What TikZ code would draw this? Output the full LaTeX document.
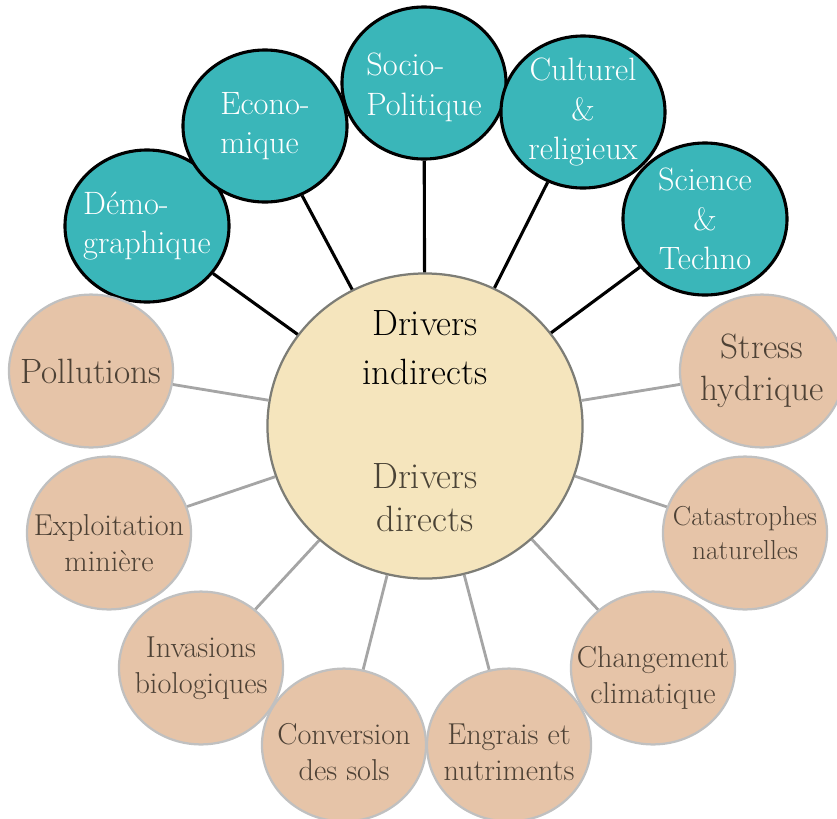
\documentclass[tikz,border=0pt]{standalone}
\usepackage{xcolor}
\usepackage{tikz}
\usetikzlibrary{shapes.geometric, arrows}
\definecolor{tealfill}{RGB}{58,182,185}
\definecolor{beigefill}{RGB}{230,196,168}
\definecolor{hubfill}{RGB}{245,229,189}
\definecolor{beigeline}{RGB}{192,192,192}
\definecolor{hubline}{RGB}{125,125,118}
\definecolor{link}{RGB}{165,165,165}
\definecolor{beigetext}{RGB}{77,65,53}
\definecolor{hubtext}{RGB}{74,67,54}
\tikzstyle{hub} = [ellipse, minimum width=7.875cm, minimum height=7.625cm, fill=hubfill, draw=hubline, line width=1.6pt]
\tikzstyle{indirect} = [ellipse, minimum width=4.1cm, minimum height=3.8cm, fill=tealfill, draw=black, line width=2.2pt]
\tikzstyle{direct} = [ellipse, minimum width=4.1cm, minimum height=3.82cm, fill=beigefill, draw=beigeline, line width=1.6pt]
\tikzstyle{bigtext} = [font=\fontsize{26}{35}\selectfont, align=center]
\tikzstyle{indtext} = [text=white, font=\fontsize{23}{28}\selectfont, align=center]
\tikzstyle{dirtext} = [text=beigetext, font=\fontsize{21.5}{25.5}\selectfont, align=center]
\tikzstyle{strong} = [line width=2.2pt, draw=black]
\tikzstyle{weak} = [line width=2pt, draw=link]

\begin{document}
\begin{tikzpicture}[x=0.025cm, y=-0.025cm]
	\useasboundingbox (0,0) rectangle (837,818);
	
	% Nodes
	\node (hub) [hub] at (425,426) {};
	\node (indir) [bigtext, text=black] at (425,348) {Drivers\\indirects};
	\node (dir) [bigtext, text=hubtext, font=\fontsize{26}{30.5}\selectfont] at (425,498) {Drivers\\directs};
	
	\node (demo) [indirect, label={[indtext, align=left]center:Démo-\\graphique}] at (147,226) {};
	\node (eco) [indirect, label={[indtext, align=left]center:Econo-\\mique}] at (265,126) {};
	\node (socio) [indirect, label={[indtext, align=left, yshift=-3]center:Socio-\\Politique}] at (424,83) {};
	\node (cult) [indirect, label={[indtext]center:Culturel\\\&\\religieux}] at (583,112) {};
	\node (sci) [indirect, label={[indtext]center:Science\\\&\\Techno}] at (705,219) {};
	
	\node (poll) [direct, label={[dirtext, font=\fontsize{25}{30}\selectfont]center:Pollutions}] at (91,371) {};
	\node (stress) [direct, label={[dirtext, font=\fontsize{25}{30}\selectfont]center:Stress\\hydrique}] at (762,371) {};
	\node (expl) [direct, label={[dirtext, yshift=-7]center:Exploitation\\minière}] at (109,533) {};
	\node (cata) [direct, label={[dirtext, font=\fontsize{19.5}{23.5}\selectfont]center:Catastrophes\\naturelles}] at (745,533) {};
	\node (inva) [direct, label={[dirtext]center:Invasions\\biologiques}] at (201,668) {};
	\node (chang) [direct, label={[dirtext, yshift=-7]center:Changement\\climatique}] at (653,668) {};
	\node (conv) [direct, label={[dirtext, yshift=-5]center:Conversion\\des sols}] at (344,745) {};
	\node (engr) [direct, label={[dirtext, yshift=-5]center:Engrais et\\nutriments}] at (509,745) {};
	
	% Lines
	\draw [strong] (hub) -- (demo);
	\draw [strong] (hub) -- (eco);
	\draw [strong] (hub) -- (socio);
	\draw [strong] (hub) -- (cult);
	\draw [strong] (hub) -- (sci);
	
	\draw [weak] (hub) -- (poll);
	\draw [weak] (hub) -- (stress);
	\draw [weak] (hub) -- (expl);
	\draw [weak] (hub) -- (cata);
	\draw [weak] (hub) -- (inva);
	\draw [weak] (hub) -- (chang);
	\draw [weak] (hub) -- (conv);
	\draw [weak] (hub) -- (engr);
	
\end{tikzpicture}
\end{document}
